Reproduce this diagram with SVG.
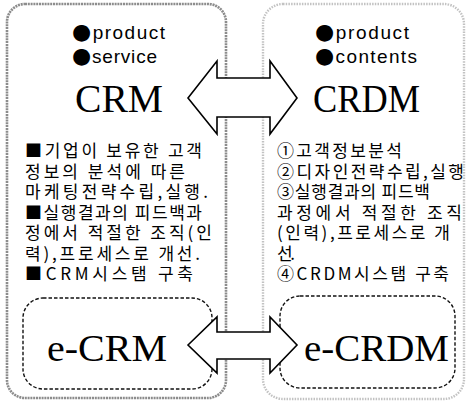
<svg xmlns="http://www.w3.org/2000/svg" width="467" height="410" viewBox="0 0 467 410">
  <style>
    .frame-l { fill: none; stroke: #8c8c8c; stroke-width: 2.6; stroke-dasharray: 2 0.8; }
    .frame-r { fill: none; stroke: #c2c2c2; stroke-width: 2.4; stroke-dasharray: 1.5 1.2; }
    .dash { fill: none; stroke: #111; stroke-width: 1.4; stroke-dasharray: 3.5 2; }
    .arrow { fill: #fff; stroke: #000; stroke-width: 1.6; stroke-linejoin: miter; }
    .tag { font-family: "Liberation Sans", Arial, sans-serif; font-size: 19px; fill: #000; }
    .dot { font-family: "DejaVu Sans", sans-serif; font-size: 22px; }
    .title { font-family: "Liberation Serif", "Times New Roman", serif; font-size: 41px; fill: #000; }
    .sub { font-family: "Liberation Serif", "Times New Roman", serif; font-size: 38px; fill: #000; }
    .body { font-family: "Noto Sans CJK KR", "Liberation Sans", sans-serif; font-size: 17px; fill: #000; }
  </style>

  <!-- CRM column -->
  <g id="crm">
    <rect class="frame-l" x="7" y="4" width="219" height="394" rx="18"/>
    <text class="tag" x="72" y="39" textLength="93" lengthAdjust="spacing"><tspan class="dot">●</tspan>product</text>
    <text class="tag" x="72" y="63" textLength="85" lengthAdjust="spacing"><tspan class="dot">●</tspan>service</text>
    <text class="title" x="75" y="112" textLength="88" lengthAdjust="spacingAndGlyphs">CRM</text>
    <g class="body">
      <text x="25" y="157" textLength="177" lengthAdjust="spacing">■기업이 보유한 고객</text>
      <text x="25" y="177.5" textLength="160" lengthAdjust="spacing">정보의 분석에 따른</text>
      <text x="25" y="198" textLength="183" lengthAdjust="spacing">마케팅전략수립,실행.</text>
      <text x="25" y="218.5" textLength="177" lengthAdjust="spacing">■실행결과의 피드백과</text>
      <text x="25" y="239" textLength="187" lengthAdjust="spacing">정에서 적절한 조직(인</text>
      <text x="25" y="259.5" textLength="175" lengthAdjust="spacing">력),프로세스로 개선.</text>
      <text x="25" y="279.5" textLength="168" lengthAdjust="spacing">■CRM시스탬 구축</text>
    </g>
  </g>

  <!-- CRDM column -->
  <g id="crdm">
    <rect class="frame-r" x="263" y="4" width="201" height="395" rx="20"/>
    <text class="tag" x="315" y="39" textLength="94" lengthAdjust="spacing"><tspan class="dot">●</tspan>product</text>
    <text class="tag" x="315" y="63" textLength="102" lengthAdjust="spacing"><tspan class="dot">●</tspan>contents</text>
    <text class="title" x="313" y="112" textLength="107" lengthAdjust="spacingAndGlyphs">CRDM</text>
    <g class="body">
      <text x="277" y="157" textLength="125" lengthAdjust="spacing">①고객정보분석</text>
      <text x="277" y="177.5" textLength="187" lengthAdjust="spacing">②디자인전략수립,실행</text>
      <text x="277" y="198" textLength="153" lengthAdjust="spacing">③실행결과의 피드백</text>
      <text x="277" y="218.5" textLength="185" lengthAdjust="spacing">과정에서 적절한 조직</text>
      <text x="277" y="239" textLength="173" lengthAdjust="spacing">(인력),프로세스로 개</text>
      <text x="277" y="259.5" textLength="18" lengthAdjust="spacing">선.</text>
      <text x="277" y="279.5" textLength="172" lengthAdjust="spacing">④CRDM시스탬 구축</text>
    </g>
  </g>

  <!-- e-CRM -->
  <g id="e-crm">
    <rect class="dash" x="23" y="298" width="189" height="91" rx="20"/>
    <text class="sub" x="47" y="360.5" textLength="120" lengthAdjust="spacingAndGlyphs">e-CRM</text>
  </g>

  <!-- e-CRDM -->
  <g id="e-crdm">
    <rect class="dash" x="280" y="296" width="175" height="92" rx="20"/>
    <text class="sub" x="304" y="360.5" textLength="145" lengthAdjust="spacingAndGlyphs">e-CRDM</text>
  </g>

  <!-- two-way links between the columns -->
  <g id="connectors">
    <path class="arrow" d="M188,98 L217,61 L217,78 L270,78 L270,61 L297,98 L270,134 L270,117 L217,117 L217,134 Z"/>
    <path class="arrow" d="M188,345 L217,317 L217,332 L270,332 L270,317 L297,345 L270,373 L270,359 L217,359 L217,373 Z"/>
  </g>
</svg>
